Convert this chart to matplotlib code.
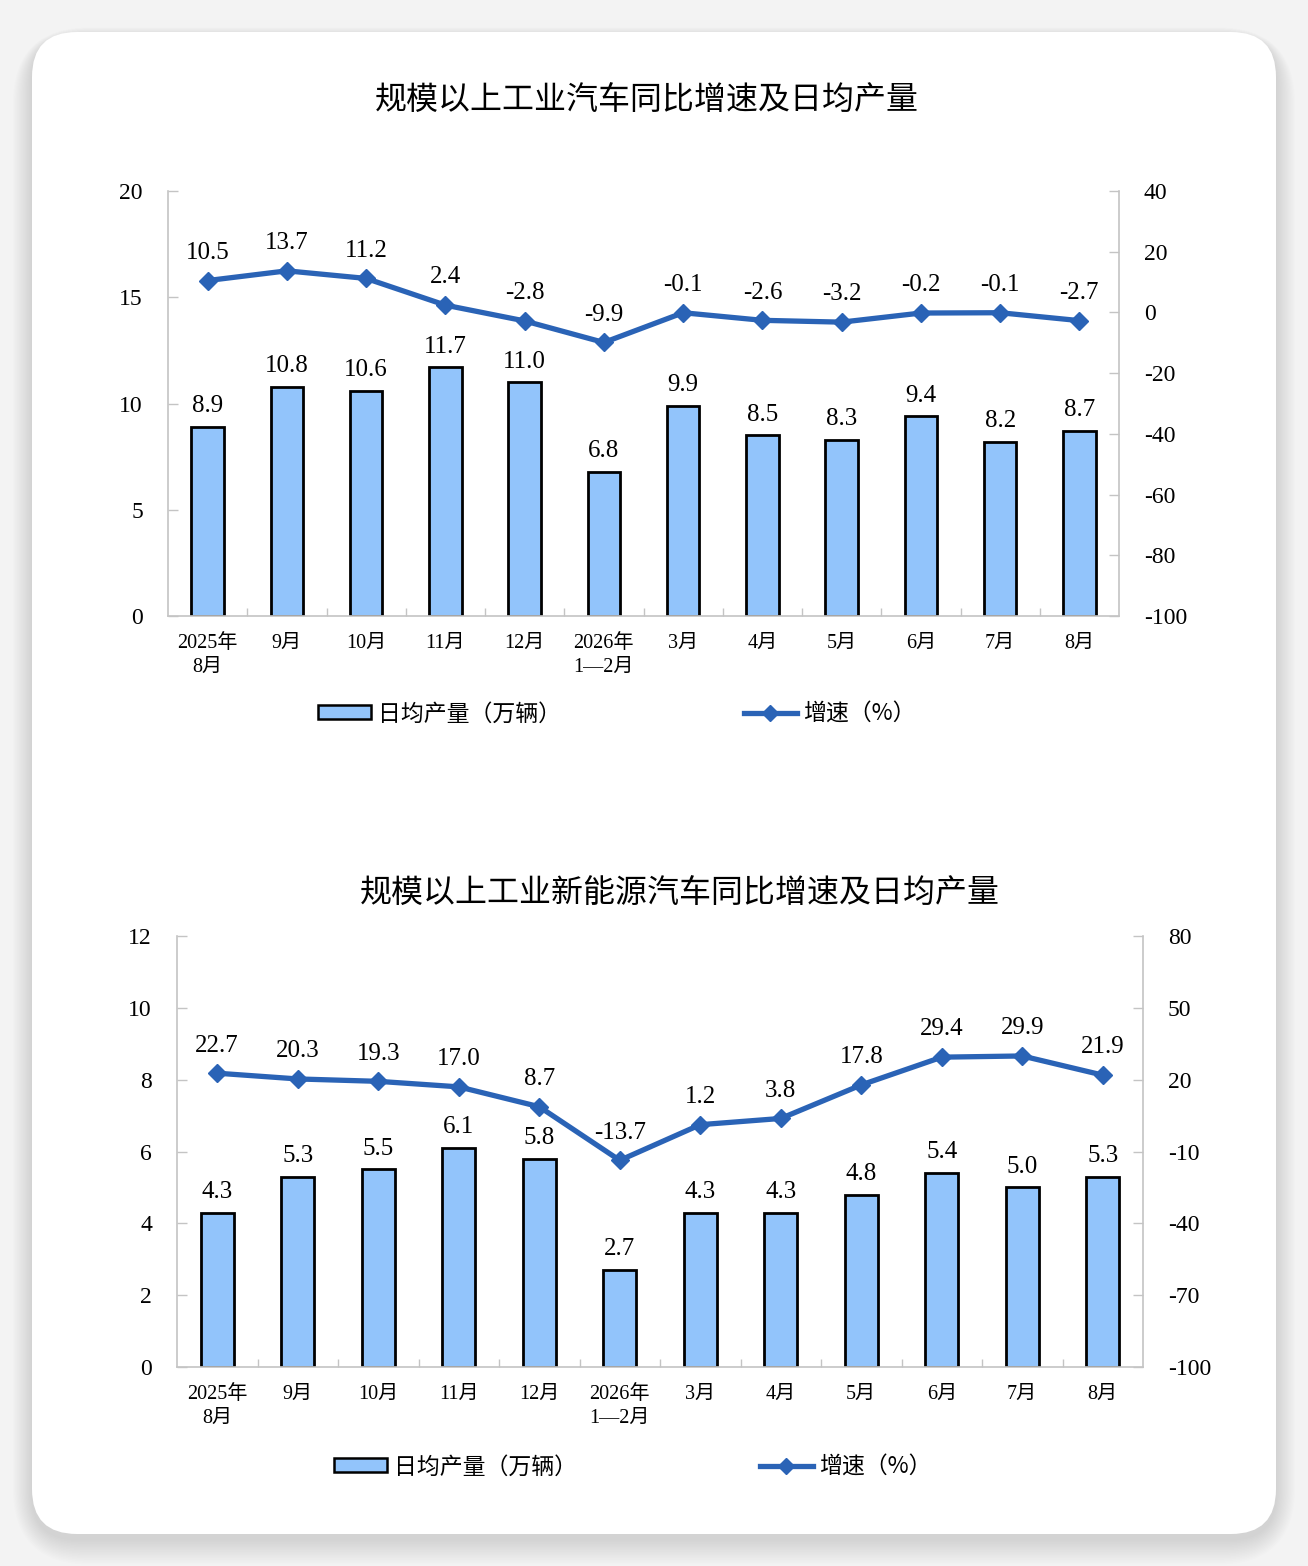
import matplotlib
matplotlib.use("Agg")
import matplotlib.pyplot as plt
from matplotlib.patches import FancyBboxPatch
from matplotlib.transforms import IdentityTransform
from matplotlib.lines import Line2D
from matplotlib.patches import Patch

plt.rcParams['font.family'] = ['Liberation Serif', 'Noto Sans CJK SC', 'DejaVu Sans']

# ---------------- data ----------------
categories = ["2025年\n8月", "9月", "10月", "11月", "12月", "2026年\n1—2月",
              "3月", "4月", "5月", "6月", "7月", "8月"]

car_daily = [8.9, 10.8, 10.6, 11.7, 11.0, 6.8, 9.9, 8.5, 8.3, 9.4, 8.2, 8.7]
car_growth = [10.5, 13.7, 11.2, 2.4, -2.8, -9.9, -0.1, -2.6, -3.2, -0.2, -0.1, -2.7]

nev_daily = [4.3, 5.3, 5.5, 6.1, 5.8, 2.7, 4.3, 4.3, 4.8, 5.4, 5.0, 5.3]
nev_growth = [22.7, 20.3, 19.3, 17.0, 8.7, -13.7, 1.2, 3.8, 17.8, 29.4, 29.9, 21.9]

title1 = "规模以上工业汽车同比增速及日均产量"
title2 = "规模以上工业新能源汽车同比增速及日均产量"
legend_bar = "日均产量（万辆）"
legend_line = "增速（%）"

left_ticks1 = [0, 5, 10, 15, 20]
right_ticks1 = [-100, -80, -60, -40, -20, 0, 20, 40]
left_ticks2 = [0, 2, 4, 6, 8, 10, 12]
right_ticks2 = [-100, -70, -40, -10, 20, 50, 80]

BAR_C = "#92c4fb"
LINE_C = "#2a63b6"
SPINE_C = "#c4c4c4"

W, H = 1308, 1566
fig = plt.figure(figsize=(W / 100, H / 100), dpi=100)
fig.patch.set_facecolor("#f3f3f3")

# ---------- card with shadow ----------
cx0, cy0, cx1, cy1 = 32, 32, 1276, 1534  # pixel coords (top-left origin)
for i in range(16, 0, -1):
    g = i * 2.0
    sh = FancyBboxPatch((cx0 - g * 0.6, H - cy1 - g * 0.8 - 5), (cx1 - cx0) + g * 1.2, (cy1 - cy0) + g * 1.1,
                        boxstyle=f"round,pad=0,rounding_size={45 + g}",
                        transform=IdentityTransform(), facecolor="#000000", alpha=0.009,
                        edgecolor="none", zorder=0)
    fig.patches.append(sh)
card = FancyBboxPatch((cx0, H - cy1), cx1 - cx0, cy1 - cy0,
                      boxstyle="round,pad=0,rounding_size=45",
                      transform=IdentityTransform(), facecolor="white",
                      edgecolor="none", zorder=1)
fig.patches.append(card)


def px_rect(l, t, r, b):
    return [l / W, 1 - b / H, (r - l) / W, (b - t) / H]


def draw_chart(rect, bars, growth, lticks, rticks, title, title_xy, legend_xy):
    ax = fig.add_axes(rect, zorder=3)
    ax.set_facecolor("none")
    x = list(range(len(categories)))
    ax.bar(x, bars, width=0.41, color=BAR_C, edgecolor="black", linewidth=2.0, zorder=2)
    ax.set_xlim(-0.5, len(categories) - 0.5)
    ax.set_ylim(lticks[0], lticks[-1])
    ax.set_yticks(lticks)
    ax.set_yticklabels([str(t) for t in lticks], fontsize=17)
    ax.set_xticks(x)
    ax.set_xticklabels(categories, fontsize=14.5, linespacing=1.35)
    ax.set_xticks([i + 0.5 for i in x[:-1]], minor=True)
    ax.tick_params(axis='x', which='major', length=0, pad=13)
    ax.tick_params(axis='x', which='minor', length=6, direction='in', color=SPINE_C, width=1)
    ax.tick_params(axis='y', direction='in', length=7, color=SPINE_C, width=1, pad=18)
    for s in ['top', 'right']:
        ax.spines[s].set_visible(False)
    for s in ['left', 'bottom']:
        ax.spines[s].set_color(SPINE_C)
        ax.spines[s].set_linewidth(1.2)
    for xi, v in zip(x, bars):
        ax.annotate(f"{v:.1f}", (xi, v), xytext=(0, 7), textcoords='offset points',
                    ha='center', va='bottom', fontsize=18, zorder=5)

    ax2 = ax.twinx()
    ax2.set_ylim(rticks[0], rticks[-1])
    ax2.set_yticks(rticks)
    ax2.set_yticklabels([str(t) for t in rticks], fontsize=17)
    ax2.tick_params(axis='y', direction='in', length=7, color=SPINE_C, width=1, pad=18)
    for s in ['top', 'left', 'bottom']:
        ax2.spines[s].set_visible(False)
    ax2.spines['right'].set_color(SPINE_C)
    ax2.spines['right'].set_linewidth(1.2)
    ax2.plot(x, growth, color=LINE_C, linewidth=3.8, marker='D', markersize=9,
             markerfacecolor=LINE_C, markeredgecolor=LINE_C, zorder=4)
    for xi, v in zip(x, growth):
        ax2.annotate(f"{v:.1f}", (xi, v), xytext=(0, 12), textcoords='offset points',
                     ha='center', va='bottom', fontsize=18, zorder=5)

    fig.text(title_xy[0] / W, 1 - title_xy[1] / H, title, ha='center', va='center',
             fontsize=23, family=['Noto Sans CJK SC'], zorder=6)

    handles = [Patch(facecolor=BAR_C, edgecolor='black', linewidth=1.8),
               Line2D([0], [0], color=LINE_C, linewidth=3.8, marker='D', markersize=8)]
    fig.legend(handles, [legend_bar, legend_line], loc='center left',
               bbox_to_anchor=(legend_xy[0] / W, 1 - legend_xy[1] / H),
               ncol=2, frameon=False, borderpad=0, borderaxespad=0,
               handlelength=2.3, handleheight=0.55, handletextpad=0.3,
               columnspacing=8.0, prop={'family': ['Noto Sans CJK SC'], 'size': 16.5})
    return ax, ax2


draw_chart(px_rect(168, 191, 1119, 616), car_daily, car_growth, left_ticks1, right_ticks1,
           title1, (647, 101), (318, 714))
draw_chart(px_rect(177, 936, 1143, 1367), nev_daily, nev_growth, left_ticks2, right_ticks2,
           title2, (680, 894), (334, 1467))

fig.savefig("out.png", dpi=100)
